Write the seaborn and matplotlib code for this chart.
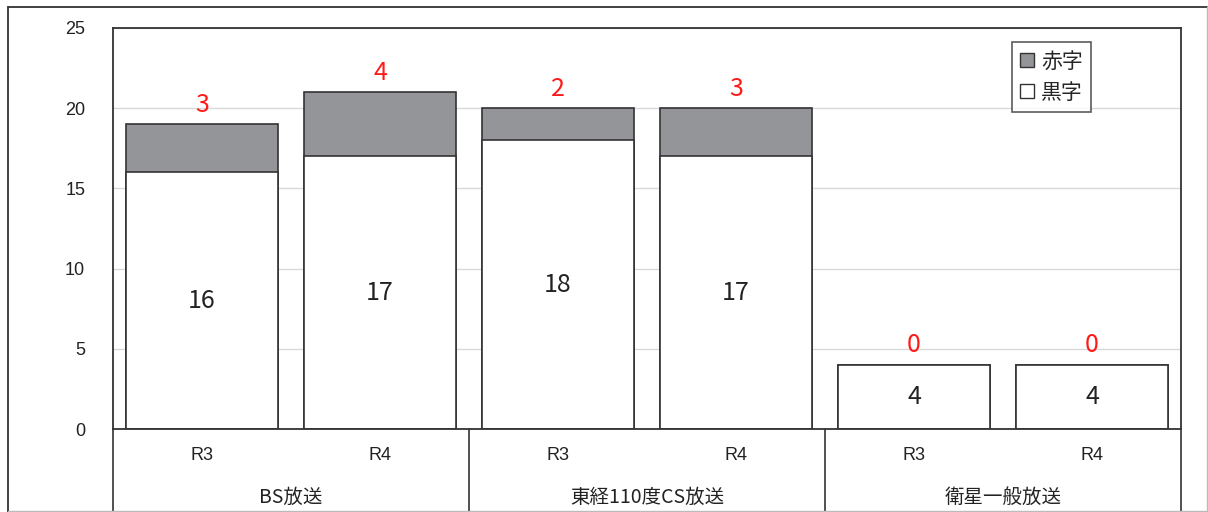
import numpy as np
import pandas as pd
import matplotlib.pyplot as plt
import seaborn as sns
from matplotlib.lines import Line2D
from matplotlib.patches import Patch

sns.set_style("white")
plt.rcParams['font.family'] = ['Noto Sans CJK JP', 'DejaVu Sans']

groups = ['BS放送', '東経110度CS放送', '衛星一般放送']
years = ['R3', 'R4']
kuro = [16, 17, 18, 17, 4, 4]   # 黒字
aka = [3, 4, 2, 3, 0, 0]        # 赤字

keys = [g + '_' + y for g in groups for y in years]
df = pd.DataFrame({'key': keys, 'kuro': kuro, 'aka': aka})
df['total'] = df['kuro'] + df['aka']

W, H = 1208, 512
fig = plt.figure(figsize=(W / 100, H / 100), dpi=100)
ax = fig.add_axes([113 / W, 1 - 429 / H, (1181 - 113) / W, (429 - 28) / H])

gray = '#939598'
edge = '#333333'
sns.barplot(data=df, x='key', y='total', order=keys, color=gray, width=0.85,
            edgecolor=edge, linewidth=1.2, saturation=1, ax=ax)
sns.barplot(data=df, x='key', y='kuro', order=keys, color='white', width=0.85,
            edgecolor=edge, linewidth=1.2, saturation=1, ax=ax)

ax.set_ylim(0, 25)
ax.set_xlim(-0.5, len(keys) - 0.5)
ax.set_yticks([0, 5, 10, 15, 20, 25])
ax.yaxis.grid(True, color='#d9d9d9', linewidth=1)
ax.set_axisbelow(True)
ax.tick_params(axis='y', labelsize=13, length=0, pad=20, colors='#222222')
for lab in ax.get_yticklabels():
    lab.set_family(['Liberation Sans', 'DejaVu Sans'])
ax.set_xticks([])
ax.set_xlabel('')
ax.set_ylabel('')
for s in ax.spines.values():
    s.set_color(edge)
    s.set_linewidth(1.3)

for i in range(len(keys)):
    ax.text(i, kuro[i] / 2, str(kuro[i]), ha='center', va='center',
            fontsize=18, color='#222222')
    ax.text(i, df['total'][i] + 0.4, str(aka[i]), ha='center', va='bottom',
            fontsize=18, color='#ff1a1a')

# two-level category axis
trans = ax.get_xaxis_transform()
for i, y in enumerate(years * len(groups)):
    ax.text(i, -0.065, y, transform=trans, ha='center', va='center',
            fontsize=13, color='#222222', family=['Liberation Sans', 'DejaVu Sans'])
for j, g in enumerate(groups):
    ax.text(2 * j + 0.5, -0.17, g, transform=trans, ha='center', va='center',
            fontsize=14, color='#222222')
for xb in [-0.5, 1.5, 3.5, 5.5]:
    ax.add_line(Line2D([xb, xb], [0, -0.25], transform=trans, color=edge,
                       linewidth=1.2, clip_on=False))

# outer frame
fig.add_artist(Line2D([8 / W, 8 / W], [0, 1 - 7 / H], color=edge, linewidth=1.3))
fig.add_artist(Line2D([8 / W, 1207 / W], [1 - 7 / H, 1 - 7 / H], color=edge, linewidth=1.3))
fig.add_artist(Line2D([1207 / W, 1207 / W], [0, 1 - 7 / H], color='#bbbbbb', linewidth=1))
fig.add_artist(Line2D([8 / W, 1207 / W], [1 / H, 1 / H], color='#bbbbbb', linewidth=1))

handles = [Patch(facecolor=gray, edgecolor=edge, label='赤字'),
           Patch(facecolor='white', edgecolor=edge, label='黒字')]
leg = ax.legend(handles=handles, loc='upper right', bbox_to_anchor=(0.9157, 0.965),
                borderaxespad=0, fontsize=15, frameon=True, fancybox=False,
                handlelength=0.65, handleheight=0.65, handletextpad=0.35,
                borderpad=0.4, labelspacing=0.45)
leg.get_frame().set_edgecolor(edge)
leg.get_frame().set_linewidth(1.2)

fig.savefig('out.png', dpi=100)
